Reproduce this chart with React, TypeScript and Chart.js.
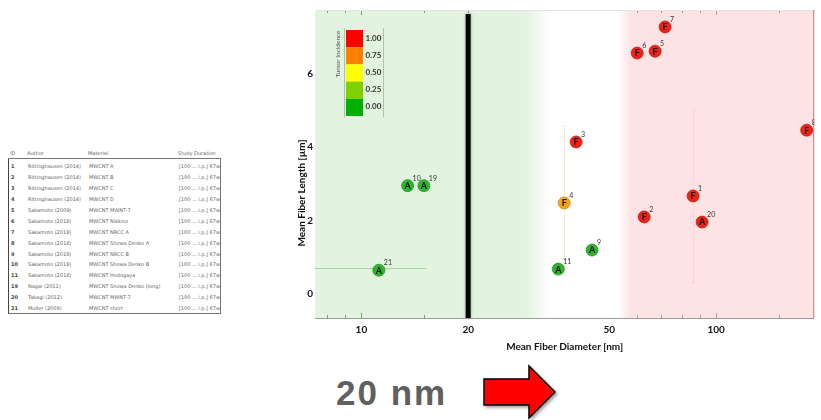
import React, { useEffect, useRef } from "react";
import { Chart, registerables } from "chart.js";

Chart.register(...registerables);

// ---- chart data ----
const fiberIds = [21, 10, 19, 3, 4, 9, 11, 2, 1, 20, 6, 5, 7, 8];
const studyType = ["A", "A", "A", "F", "F", "A", "A", "F", "F", "A", "F", "F", "F", "F"];
const meanDiameter = [11.2, 13.5, 15.0, 40.3, 37.3, 44.7, 35.9, 62.7, 86.1, 91.3, 59.9, 67.3, 71.8, 180];
const meanLength = [0.65, 2.95, 2.95, 4.14, 2.48, 1.2, 0.68, 2.1, 2.67, 1.96, 6.56, 6.61, 7.27, 4.46];
const tumorIncidence = [0, 0, 0, 1, 0.75, 0, 0, 1, 1, 1, 1, 1, 1, 1];

// error bars (data units)
const xErrIds = [21];
const xErrLow = [7.0];
const xErrHigh = [15.2];
const yErrIds = [4, 1];
const yErrLow = [0.52, 0.3];
const yErrHigh = [4.57, 5.0];

const xTickValues = [10, 20, 50, 100];
const xMinorTicks = [8, 9, 10, 15, 20, 30, 40, 50, 60, 70, 80, 90, 100, 150];
const yTickValues = [0, 2, 4, 6];
const thresholdDiameter = 20;

const legendLevels = ["1.00", "0.75", "0.50", "0.25", "0.00"];
const legendColors = ["#ff0000", "#ff8000", "#ffff00", "#80d000", "#00b000"];

// ---- table data ----
const tableIds = ["1", "2", "3", "4", "5", "6", "7", "8", "9", "10", "11", "19", "20", "21"];
const tableAuthors = [
  "Rittinghausen (2014)", "Rittinghausen (2014)", "Rittinghausen (2014)", "Rittinghausen (2014)",
  "Sakamoto (2009)", "Sakamoto (2018)", "Sakamoto (2018)", "Sakamoto (2018)", "Sakamoto (2018)",
  "Sakamoto (2018)", "Sakamoto (2018)", "Nagai (2011)", "Takagi (2012)", "Muller (2009)",
];
const tableMaterials = [
  "MWCNT A", "MWCNT B", "MWCNT C", "MWCNT D", "MWCNT MWNT-7", "MWCNT Nikkiso", "MWCNT NRCC A",
  "MWCNT Showa Denko A", "MWCNT NRCC B", "MWCNT Showa Denko B", "MWCNT Hodogaya",
  "MWCNT Showa Denko (long)", "MWCNT MWNT-7", "MWCNT short",
];
const tableDoses = [
  "[100 ... i.p.] 67w", "[100 ... i.p.] 67w", "[100 ... i.p.] 67w", "[100 ... i.p.] 67w",
  "[100 ... i.p.] 67w", "[100 ... i.p.] 67w", "[100 ... i.p.] 67w", "[100 ... i.p.] 67w",
  "[100 ... i.p.] 67w", "[100 ... i.p.] 67w", "[100 ... i.p.] 67w", "[100 ... i.p.] 67w",
  "[100 ... i.p.] 67w", "[100 ... i.p.] 67w",
];

const FONT = "Lato, 'Open Sans', sans-serif";

function colorFor(v: number): string {
  if (v >= 1) return "#ec2418";
  if (v >= 0.75) return "#f7a21a";
  if (v >= 0.5) return "#f0e000";
  if (v >= 0.25) return "#80c820";
  return "#2db52d";
}
function borderFor(v: number): string {
  if (v >= 1) return "#cc180e";
  if (v >= 0.75) return "#d8880c";
  return "#1a9a1a";
}

const bgPlugin = {
  id: "bgPlugin",
  beforeDatasetsDraw(chart: any) {
    const { ctx, chartArea, scales } = chart;
    const { left, right, top, bottom } = chartArea;
    const x = scales.x;
    const y = scales.y;
    ctx.save();
    // green zone
    const gFadeStart = x.getPixelForValue(28.8);
    const gFadeEnd = x.getPixelForValue(34);
    let grad = ctx.createLinearGradient(left, 0, gFadeEnd, 0);
    grad.addColorStop(0, "#e2f3df");
    grad.addColorStop((gFadeStart - left) / (gFadeEnd - left), "#e2f3df");
    grad.addColorStop(1, "rgba(226,243,223,0)");
    ctx.fillStyle = grad;
    ctx.fillRect(left, top, gFadeEnd - left, bottom - top);
    // red zone
    const rFadeStart = x.getPixelForValue(53);
    const rFadeEnd = x.getPixelForValue(57.5);
    grad = ctx.createLinearGradient(rFadeStart, 0, rFadeEnd, 0);
    grad.addColorStop(0, "rgba(253,226,226,0)");
    grad.addColorStop(1, "#fde3e3");
    ctx.fillStyle = grad;
    ctx.fillRect(rFadeStart, top, right - rFadeStart, bottom - top);

    // minor ticks top/bottom
    xMinorTicks.forEach((v) => {
      const px = x.getPixelForValue(v);
      if (px < left || px > right) return;
      let col = "";
      if (v < 28) col = "#5cb85c";
      else if (v > 55) col = "#e08a8a";
      else return;
      const len = v === 10 || v === 100 ? 5 : 3;
      ctx.strokeStyle = col;
      ctx.lineWidth = 1;
      ctx.beginPath();
      ctx.moveTo(Math.round(px) + 0.5, top);
      ctx.lineTo(Math.round(px) + 0.5, top + len);
      ctx.moveTo(Math.round(px) + 0.5, bottom);
      ctx.lineTo(Math.round(px) + 0.5, bottom - len);
      ctx.stroke();
    });

    // borders
    ctx.lineWidth = 1;
    ctx.strokeStyle = "#e4e4e4";
    ctx.beginPath();
    ctx.moveTo(left, top + 0.5);
    ctx.lineTo(right, top + 0.5);
    ctx.stroke();
    ctx.strokeStyle = "#9a9a9a";
    ctx.beginPath();
    ctx.moveTo(left, bottom + 0.5);
    ctx.lineTo(right, bottom + 0.5);
    ctx.stroke();
    ctx.strokeStyle = "#d07878";
    ctx.beginPath();
    ctx.moveTo(right - 0.5, top);
    ctx.lineTo(right - 0.5, bottom);
    ctx.stroke();

    // threshold line
    const tx = x.getPixelForValue(thresholdDiameter);
    ctx.shadowColor = "rgba(0,0,0,0.35)";
    ctx.shadowBlur = 3;
    ctx.fillStyle = "#000";
    ctx.fillRect(tx - 2.5, top + 4, 5, bottom - top - 4);
    ctx.shadowBlur = 0;
    ctx.shadowColor = "transparent";

    // error bars
    xErrIds.forEach((id, i) => {
      const idx = fiberIds.indexOf(id);
      const py = y.getPixelForValue(meanLength[idx]) - 2;
      const x1 = Math.max(left, x.getPixelForValue(xErrLow[i]));
      const x2 = x.getPixelForValue(xErrHigh[i]);
      ctx.strokeStyle = "#9ad89a";
      ctx.lineWidth = 1;
      ctx.beginPath();
      ctx.moveTo(x1, Math.round(py) + 0.5);
      ctx.lineTo(x2, Math.round(py) + 0.5);
      ctx.stroke();
    });
    yErrIds.forEach((id, i) => {
      const idx = fiberIds.indexOf(id);
      const px = Math.round(x.getPixelForValue(meanDiameter[idx])) + 0.5;
      const y1 = y.getPixelForValue(yErrHigh[i]);
      const y2 = y.getPixelForValue(yErrLow[i]);
      ctx.strokeStyle = id === 4 ? "rgba(240,225,185,0.6)" : "rgba(248,200,200,0.55)";
      ctx.lineWidth = 1;
      ctx.beginPath();
      ctx.moveTo(px, y1);
      ctx.lineTo(px, y2);
      ctx.moveTo(px - 2, y1);
      ctx.lineTo(px + 2, y1);
      ctx.moveTo(px - 2, y2);
      ctx.lineTo(px + 2, y2);
      ctx.stroke();
    });

    // legend (color bar)
    const lx = left + 31;
    const ly = top + 20;
    const bh = 17.2;
    legendColors.forEach((c, i) => {
      ctx.fillStyle = c;
      ctx.fillRect(lx, ly + i * bh, 17, bh);
    });
    ctx.strokeStyle = "#a8c8a0";
    ctx.lineWidth = 1;
    ctx.beginPath();
    ctx.moveTo(lx - 1.5, ly - 2);
    ctx.lineTo(lx - 1.5, ly + 5 * bh + 1);
    ctx.moveTo(lx + 37.5, ly - 2);
    ctx.lineTo(lx + 37.5, ly + 5 * bh + 1);
    ctx.stroke();
    ctx.fillStyle = "#333";
    ctx.font = `bold 8px ${FONT}`;
    ctx.textAlign = "left";
    ctx.textBaseline = "middle";
    legendLevels.forEach((t, i) => {
      ctx.fillText(t, lx + 19.5, ly + i * bh + bh / 2 - 0.5);
    });
    ctx.save();
    ctx.translate(lx - 8, ly + 24);
    ctx.rotate(-Math.PI / 2);
    ctx.font = `6.5px ${FONT}`;
    ctx.fillStyle = "#555";
    ctx.textAlign = "center";
    ctx.fillText("Tumor Incidence", 0, 0);
    ctx.restore();

    ctx.restore();
  },
  afterDatasetsDraw(chart: any) {
    const { ctx, chartArea } = chart;
    const meta = chart.getDatasetMeta(0);
    ctx.save();
    ctx.beginPath();
    ctx.rect(chartArea.left, chartArea.top, chartArea.right - chartArea.left, chartArea.bottom - chartArea.top);
    ctx.clip();
    meta.data.forEach((pt: any, i: number) => {
      ctx.fillStyle = "#111";
      ctx.font = `bold 9px ${FONT}`;
      ctx.textAlign = "center";
      ctx.textBaseline = "middle";
      ctx.fillText(studyType[i], pt.x, pt.y + 0.5);
      ctx.fillStyle = "#333";
      ctx.font = `7px ${FONT}`;
      ctx.textAlign = "left";
      ctx.fillText(String(fiberIds[i]), pt.x + 5, pt.y - 7);
    });
    ctx.restore();
  },
  afterDraw(chart: any) {
    const { ctx, chartArea } = chart;
    ctx.save();
    ctx.fillStyle = "#111";
    ctx.font = `bold 10px ${FONT}`;
    ctx.textAlign = "center";
    ctx.textBaseline = "middle";
    ctx.fillText("Mean Fiber Diameter [nm]", (chartArea.left + chartArea.right) / 2, chartArea.bottom + 29);
    ctx.translate(17, 193);
    ctx.rotate(-Math.PI / 2);
    ctx.fillText("Mean Fiber Length [\u00b5m]", 0, 0);
    ctx.restore();
  },
};

function ChartView() {
  const ref = useRef<HTMLCanvasElement | null>(null);
  useEffect(() => {
    if (!ref.current) return;
    const chart = new Chart(ref.current, {
      type: "scatter",
      data: {
        datasets: [
          {
            data: meanDiameter.map((d, i) => ({ x: d, y: meanLength[i] })),
            backgroundColor: tumorIncidence.map(colorFor),
            borderColor: tumorIncidence.map(borderFor),
            borderWidth: 0.8,
            pointRadius: 6,
            pointHoverRadius: 6,
          },
        ],
      },
      options: {
        animation: false,
        responsive: false,
        maintainAspectRatio: false,
        events: [],
        layout: { padding: { left: 0, right: 6, top: 10, bottom: 0 } },
        plugins: { legend: { display: false }, tooltip: { enabled: false } },
        scales: {
          x: {
            type: "logarithmic",
            min: 7.4,
            max: 189,
            afterBuildTicks: (s: any) => {
              s.ticks = xTickValues.map((v) => ({ value: v }));
            },
            afterFit: (s: any) => {
              s.height = 42;
            },
            grid: { display: false, drawTicks: false },
            border: { display: false },
            ticks: {
              padding: 6,
              autoSkip: false,
              maxRotation: 0,
              color: "#111",
              font: { family: FONT, size: 10, weight: "bold" },
              callback: (v: any) => String(v),
            },
          },
          y: {
            type: "linear",
            min: -0.65,
            max: 7.73,
            afterBuildTicks: (s: any) => {
              s.ticks = yTickValues.map((v) => ({ value: v }));
            },
            afterFit: (s: any) => {
              s.width = 30;
            },
            grid: { display: false, drawTicks: false },
            border: { display: false },
            ticks: {
              padding: 2,
              color: "#111",
              font: { family: FONT, size: 10, weight: "bold" },
              callback: (v: any) => String(v),
            },
          },
        },
      } as any,
      plugins: [bgPlugin],
    });
    return () => chart.destroy();
  }, []);
  return (
    <canvas
      ref={ref}
      width={536}
      height={360}
      style={{ position: "absolute", left: 285, top: 0, width: 536, height: 360 }}
    />
  );
}

function DataTable() {
  const cell: React.CSSProperties = { padding: 0, height: 10.9, whiteSpace: "nowrap", overflow: "hidden" };
  return (
    <div
      style={{
        position: "absolute",
        left: 8,
        top: 148,
        width: 213,
        fontFamily: "'DejaVu Sans', sans-serif",
        fontSize: 5,
        color: "#666",
      }}
    >
      <div style={{ display: "flex", height: 10, alignItems: "center", borderBottom: "1px solid #777" }}>
        <span style={{ width: 17, paddingLeft: 2 }}>ID</span>
        <span style={{ width: 61 }}>Author</span>
        <span style={{ width: 90 }}>Material</span>
        <span>Study Duration</span>
      </div>
      <div style={{ borderLeft: "1px solid #444", borderRight: "1px solid #777", borderBottom: "1px solid #777", paddingTop: 2 }}>
        {tableIds.map((id, i) => (
          <div key={id} style={{ display: "flex", alignItems: "center", ...cell }}>
            <span style={{ width: 17, paddingLeft: 2, fontWeight: "bold", color: "#444" }}>{id}</span>
            <span style={{ width: 61 }}>{tableAuthors[i]}</span>
            <span style={{ width: 90 }}>{tableMaterials[i]}</span>
            <span>{tableDoses[i]}</span>
          </div>
        ))}
      </div>
    </div>
  );
}

function Arrow() {
  return (
    <svg width={80} height={60} style={{ position: "absolute", left: 481, top: 362 }}>
      <defs>
        <filter id="sh" x="-20%" y="-20%" width="150%" height="150%">
          <feDropShadow dx="2" dy="2" stdDeviation="1.5" floodColor="#000" floodOpacity="0.35" />
        </filter>
      </defs>
      <polygon
        points="3,17 48,17 48,4 74,30 48,56 48,43 3,43"
        fill="#ff0000"
        stroke="#000"
        strokeWidth={1.5}
        strokeLinejoin="miter"
        filter="url(#sh)"
      />
    </svg>
  );
}

export default function App() {
  return (
    <div
      style={{
        position: "absolute",
        left: 0,
        top: 0,
        width: 821,
        height: 420,
        overflow: "hidden",
        background: "#fff",
      }}
    >
      <DataTable />
      <ChartView />
      <div
        style={{
          position: "absolute",
          left: 336,
          top: 368,
          fontFamily: "Arial, 'Liberation Sans', sans-serif",
          fontWeight: "bold",
          fontSize: 35,
          letterSpacing: 2,
          color: "#606060",
          lineHeight: "50px",
        }}
      >
        20 nm
      </div>
      <Arrow />
    </div>
  );
}
